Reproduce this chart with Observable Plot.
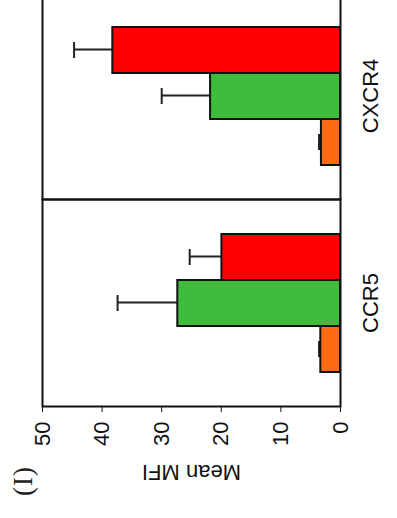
<!DOCTYPE html>
<html>
<head>
<meta charset="utf-8">
<script src="https://cdn.jsdelivr.net/npm/d3@7"></script>
<script src="https://cdn.jsdelivr.net/npm/@observablehq/plot@0.6"></script>
<style>
  html, body { margin: 0; padding: 0; background: #fff; overflow: hidden; width: 397px; height: 518px; }
  #rot { position: absolute; left: 0; top: 0; width: 525px; height: 397px;
         transform-origin: 0 0; transform: translate(0px, 518px) rotate(-90deg); background: #fff; }
  #panel-tag { position: absolute; z-index: 2; left: 22px; top: 10px; font-family: "Liberation Serif", "Times New Roman", serif;
         font-size: 27px; line-height: 1; letter-spacing: 1px; color: #222; }
  #rot svg { position: absolute; left: 0; top: 0; z-index: 1; }
</style>
</head>
<body>
<div id="rot"><span id="panel-tag">(I)</span></div>
<script>
const categories = ["CCR5", "CXCR4"];
const groups = ["Group 1", "Group 2", "Group 3"];
const colors = ["#ff6a13", "#3fbc3c", "#fe0000"];
const ccr5Means = [3.3, 27.3, 19.9];
const ccr5Errors = [0.3, 10.1, 5.4];
const cxcr4Means = [3.2, 21.8, 38.2];
const cxcr4Errors = [0.4, 8.2, 6.5];
const yTicks = [0, 10, 20, 30, 40, 50];
const yLabel = "Mean MFI";

const means = [ccr5Means, cxcr4Means];
const errors = [ccr5Errors, cxcr4Errors];
const rows = [];
categories.forEach((c, i) => {
  groups.forEach((g, j) => rows.push({category: c, group: g, mean: means[i][j], top: means[i][j] + errors[i][j]}));
});

const chart = Plot.plot({
  width: 525,
  height: 397,
  marginTop: 42,
  marginBottom: 57,
  marginLeft: 110,
  marginRight: 0,
  style: {fontFamily: "'Liberation Sans Narrow', 'Arial Narrow', 'Liberation Sans', sans-serif", fontSize: "22px", background: "white", color: "#111"},
  fx: {domain: categories, padding: 0, label: null, axis: "bottom", tickSize: 0, tickPadding: 22},
  x: {domain: groups, paddingInner: 0, paddingOuter: 0.73, axis: null},
  y: {domain: [0, 50], ticks: yTicks, tickSize: 5, tickPadding: 10, label: yLabel, labelArrow: "none", labelAnchor: "center", labelOffset: 74},
  color: {domain: groups, range: colors},
  marks: [
    Plot.ruleX(rows, {fx: "category", x: "group", y1: "mean", y2: "top", stroke: "#222", strokeWidth: 2}),
    Plot.tickY(rows, {fx: "category", x: "group", y: "top", stroke: "#222", strokeWidth: 2, insetLeft: 15, insetRight: 15}),
    Plot.barY(rows, {fx: "category", x: "group", y: "mean", fill: "group", stroke: "#111", strokeWidth: 2}),
    Plot.frame({stroke: "#111", strokeWidth: 2})
  ]
});
document.getElementById("rot").appendChild(chart);
</script>
</body>
</html>
